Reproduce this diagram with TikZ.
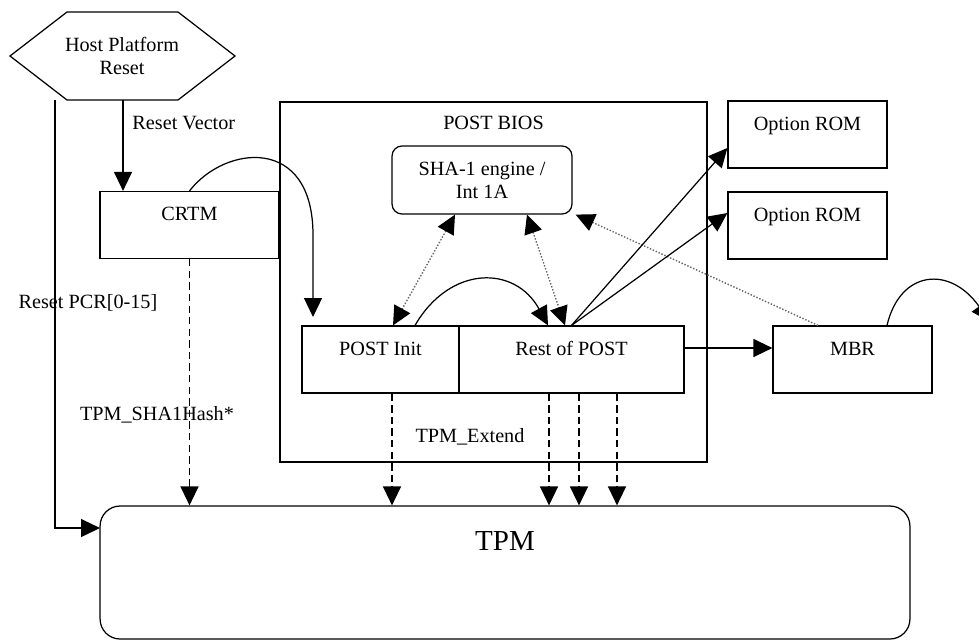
\documentclass[tikz,border=0pt]{standalone}
\usepackage{fontspec}
\setmainfont{Liberation Serif}
\usetikzlibrary{arrows.meta}

\begin{document}
\begin{tikzpicture}[>={Triangle[length=0.38cm, width=0.36cm, color=black]}, x=0.02cm, y=-0.02cm, line width=0.7pt,
    every node/.style={font=\fontsize{11.5}{13}\selectfont},
    box/.style={draw, inner sep=0pt, text height=0.58cm, text depth=0.76cm},
    hashline/.style={->, line width=0.8pt, dash pattern=on 4.2pt off 2.4pt},
    dots/.style={densely dotted, draw=black!60, line width=0.8pt}]
    \useasboundingbox (0,0) rectangle (979,640);
    \node (host) at (122,56) [align=center] {Host Platform\\Reset};
    \draw (10,56) -- (67,12) -- (178,12) -- (235,56) -- (178,100) -- (67,100) -- cycle;
    \coordinate (hostl) at (55,100);
    \coordinate (hostv) at (123,100);
    \node (crtm) at (189.5,225) [box, minimum width=3.58cm] {CRTM};
    \node (bios) at (493.5,282) [box, minimum width=8.54cm, text height=0.54cm, text depth=6.66cm] {POST BIOS};
    \node (sha) at (482,180) [draw, rounded corners=0.2cm, align=center, minimum width=3.6cm, minimum height=1.36cm] {SHA-1 engine /\\Int 1A};
    \node (init) at (380.5,359.5) [box, minimum width=3.14cm] {POST Init};
    \node (rest) at (571.5,359.5) [box, minimum width=4.5cm] {Rest of POST};
    \node (rom1) at (807.5,134.5) [box, minimum width=3.18cm] {Option ROM};
    \node (rom2) at (807.5,225.5) [box, minimum width=3.18cm] {Option ROM};
    \node (mbr) at (852.5,359.5) [box, minimum width=3.18cm] {MBR};
    \node (tpm) at (505,572.5) [draw, rounded corners=0.4cm, inner sep=0pt, minimum width=16.2cm, text height=0.88cm, text depth=1.78cm, font=\fontsize{16.5}{18}\selectfont] {TPM};
    \node (rv) at (126,123) [anchor=west] {Reset Vector};
    \node (pcr) at (88,303) {Reset PCR[0-15]};
    \node (hash) at (157,415) {TPM\_SHA1Hash*};
    \node (ext) at (470,437) {TPM\_Extend};
    \coordinate (tpmin) at (100,528);
    \coordinate (jump) at (313,317);
    \coordinate (boot) at (990,322);
    \coordinate (d0) at ([xshift=0.23cm]init.south);
    \coordinate (d1) at ([xshift=-0.45cm]rest.south);
    \coordinate (d2) at ([xshift=0.15cm]rest.south);
    \coordinate (d3) at ([xshift=0.91cm]rest.south);
    \draw [->] (hostv) -- (hostv |- crtm.north);
    \draw [->] (hostl) |- (tpmin);
    \draw [hashline] (crtm.south) -- (crtm.south |- tpm.north);
    \draw [->] (crtm.north) .. controls (225,145) and (313,135) .. (313,235) -- (jump);
    \draw [->] ([xshift=0.69cm]init.north) .. controls (450,265) and (515,265) .. ([xshift=-0.47cm]rest.north);
    \draw [<->, dots] ([xshift=-0.54cm]sha.south) -- ([xshift=0.25cm]init.north);
    \draw [<->, dots] ([xshift=0.9cm]sha.south) -- ([xshift=-0.13cm]rest.north);
    \draw [->, dots] ([xshift=-0.69cm]mbr.north) -- ([xshift=0.06cm]sha.south east);
    \draw [->] (rest.north) -- ([yshift=-0.27cm]rom1.west);
    \draw [->] (rest.north) -- ([yshift=0.25cm]rom2.west);
    \draw [->] ([yshift=0.23cm]rest.east) -- ([yshift=0.23cm]mbr.west);
    \draw [->] ([xshift=0.69cm]mbr.north) .. controls (900,270) and (950,265) .. (boot);
    \draw [hashline] (d0) -- (d0 |- tpm.north);
    \draw [hashline] (d1) -- (d1 |- tpm.north);
    \draw [hashline] (d2) -- (d2 |- tpm.north);
    \draw [hashline] (d3) -- (d3 |- tpm.north);
\end{tikzpicture}
\end{document}
